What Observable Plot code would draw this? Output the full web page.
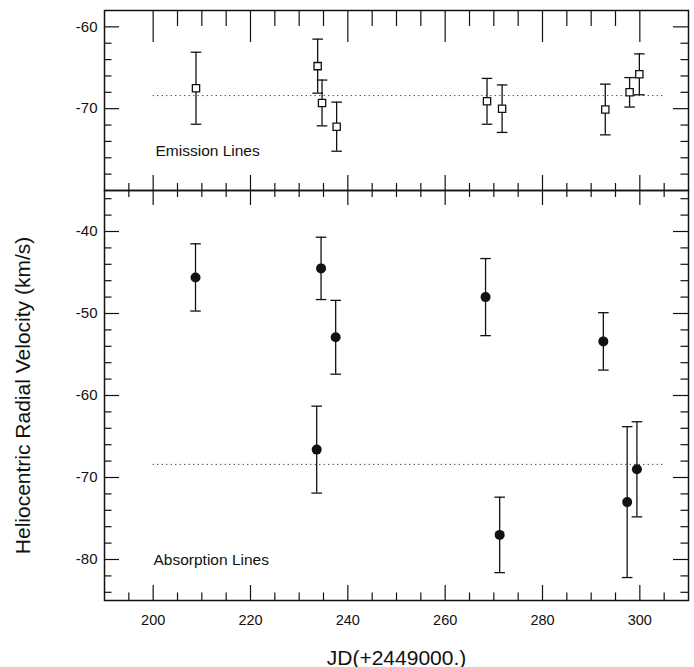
<!DOCTYPE html>
<html>
<head>
<meta charset="utf-8">
<script src="https://cdn.jsdelivr.net/npm/d3@7"></script>
<script src="https://cdn.jsdelivr.net/npm/@observablehq/plot@0.6"></script>
<style>
  html, body { margin: 0; padding: 0; background: #fff; }
  #chart { position: relative; width: 694px; height: 667px; background: #fff; }
  #chart svg { position: absolute; left: 0; overflow: visible; background: transparent; }
</style>
</head>
<body>
<div id="chart"></div>
<script>
// ---------- data ----------
const emissionJD  = [208.8, 233.8, 234.7, 237.7, 268.6, 271.7, 292.9, 297.9, 299.9];
const emissionV   = [-67.5, -64.8, -69.3, -72.2, -69.1, -70.0, -70.1, -68.0, -65.8];
const emissionErr = [4.4, 3.3, 2.8, 3.0, 2.8, 2.9, 3.1, 1.8, 2.5];

const absorptionJD  = [208.7, 234.5, 237.5, 268.3, 292.5, 233.6, 271.2, 297.4, 299.4];
const absorptionV   = [-45.6, -44.5, -52.9, -48.0, -53.4, -66.6, -77.0, -73.0, -69.0];
const absorptionErr = [4.1, 3.8, 4.5, 4.7, 3.5, 5.3, 4.6, 9.2, 5.8];

const meanLineJD = [200, 305];
const emissionMean = -68.4;
const absorptionMean = -68.4;

const xMajorTicks = [200, 220, 240, 260, 280, 300];
const xMinorTicks = [195, 205, 210, 215, 225, 230, 235, 245, 250, 255, 265, 270, 275, 285, 290, 295, 305];
const xMinorTicksTop = [205, 210, 215, 225, 230, 235, 245, 250, 255, 265, 270, 275, 285, 290, 295];

const topYMajor = [-60, -70];
const topYMinor = [-62, -64, -66, -68, -72, -74, -76, -78];
const botYMajor = [-40, -50, -60, -70, -80];
const botYMinor = [-36, -38, -42, -44, -46, -48, -52, -54, -56, -58, -62, -64, -66, -68, -72, -74, -76, -78, -82, -84];

const xLabel = "JD(+2449000.)";
const yLabel = "Heliocentric Radial Velocity (km/s)";
const emissionText = "Emission Lines";
const absorptionText = "Absorption Lines";

// ---------- build ----------
const emission = emissionJD.map((x, i) => ({x, v: emissionV[i], lo: emissionV[i] - emissionErr[i], hi: emissionV[i] + emissionErr[i]}));
const absorption = absorptionJD.map((x, i) => ({x, v: absorptionV[i], lo: absorptionV[i] - absorptionErr[i], hi: absorptionV[i] + absorptionErr[i]}));

const FONT = "'Liberation Sans', Arial, Helvetica, sans-serif";
const INK = "#111";
const W = 694, mL = 104, mR = 6;
const innerW = W - mL - mR;
const xDomain = [190, 310];
const capSymbol = {draw(ctx, size) { const r = Math.sqrt(size / Math.PI); ctx.moveTo(-r, 0); ctx.lineTo(r, 0); }};
const fmt = d => String(d);
const tickW = 1.2;

function sideTicks(yMajor, yMinor) {
  return [
    Plot.ruleY(yMajor, {stroke: INK, strokeWidth: tickW, insetRight: innerW - 15}),
    Plot.ruleY(yMinor, {stroke: INK, strokeWidth: tickW, insetRight: innerW - 7.5}),
    Plot.ruleY(yMajor, {stroke: INK, strokeWidth: tickW, insetLeft: innerW - 15}),
    Plot.ruleY(yMinor, {stroke: INK, strokeWidth: tickW, insetLeft: innerW - 7.5})
  ];
}

function errorMarks(data, markerSymbol, r, fill, sw) {
  return [
    Plot.ruleX(data, {x: "x", y1: "lo", y2: "hi", stroke: INK, strokeWidth: 1.3}),
    Plot.dot(data, {x: "x", y: "lo", symbol: capSymbol, r: 5.3, stroke: INK, strokeWidth: 1.3, fill: "none"}),
    Plot.dot(data, {x: "x", y: "hi", symbol: capSymbol, r: 5.3, stroke: INK, strokeWidth: 1.3, fill: "none"}),
    Plot.dot(data, {x: "x", y: "v", symbol: markerSymbol, r, fill, stroke: INK, strokeWidth: sw})
  ];
}

// top panel
const H1 = 190, top1 = 10, innerH1 = H1 - top1;
const topPlot = Plot.plot({
  width: W, height: H1,
  marginLeft: mL, marginRight: mR, marginTop: top1, marginBottom: 0,
  style: {fontFamily: FONT, background: "transparent", overflow: "visible"},
  x: {domain: xDomain, axis: null},
  y: {domain: [-80, -58], axis: null},
  marks: [
    ...sideTicks(topYMajor, topYMinor),
    Plot.ruleX(xMajorTicks, {stroke: INK, strokeWidth: tickW, insetBottom: innerH1 - 32}),
    Plot.ruleX(xMinorTicksTop, {stroke: INK, strokeWidth: tickW, insetBottom: innerH1 - 16}),
    Plot.ruleX(xMajorTicks, {stroke: INK, strokeWidth: tickW, insetTop: innerH1 - 15}),
    Plot.ruleX(xMinorTicks, {stroke: INK, strokeWidth: tickW, insetTop: innerH1 - 7}),
    Plot.ruleY([emissionMean], {x1: meanLineJD[0], x2: meanLineJD[1], stroke: "#333", strokeWidth: 1, strokeDasharray: "1.2,3.3"}),
    ...errorMarks(emission, "square", 4.1, "white", 1.3),
    Plot.text([emissionText], {text: d => d, frameAnchor: "bottom-left", textAnchor: "start", lineAnchor: "bottom", dx: 51, dy: -35, fontSize: 15.5, fill: INK}),
    Plot.axisY(topYMajor, {tickSize: 0, tickPadding: 7, fontSize: 15, tickFormat: fmt, label: null, fill: INK}),
    Plot.frame({stroke: INK, strokeWidth: 1.5})
  ]
});

// bottom panel
const H2 = 477, bot2 = 67, innerH2 = H2 - bot2;
const botPlot = Plot.plot({
  width: W, height: H2,
  marginLeft: mL, marginRight: mR, marginTop: 0, marginBottom: bot2,
  style: {fontFamily: FONT, background: "transparent", overflow: "visible"},
  x: {domain: xDomain},
  y: {domain: [-85, -35]},
  marks: [
    ...sideTicks(botYMajor, botYMinor),
    Plot.ruleX(xMajorTicks, {stroke: INK, strokeWidth: tickW, insetBottom: innerH2 - 15}),
    Plot.ruleX(xMinorTicks, {stroke: INK, strokeWidth: tickW, insetBottom: innerH2 - 7}),
    Plot.ruleX(xMajorTicks, {stroke: INK, strokeWidth: tickW, insetTop: innerH2 - 15}),
    Plot.ruleX(xMinorTicks, {stroke: INK, strokeWidth: tickW, insetTop: innerH2 - 7.5}),
    Plot.ruleY([absorptionMean], {x1: meanLineJD[0], x2: meanLineJD[1], stroke: "#333", strokeWidth: 1, strokeDasharray: "1.2,3.3"}),
    ...errorMarks(absorption, "circle", 5, INK, 0),
    Plot.text([absorptionText], {text: d => d, frameAnchor: "bottom-left", textAnchor: "start", lineAnchor: "bottom", dx: 49, dy: -36, fontSize: 15.5, fill: INK}),
    Plot.axisY(botYMajor, {tickSize: 0, tickPadding: 7, fontSize: 15, tickFormat: fmt, label: null, fill: INK}),
    Plot.axisY([], {tickSize: 0, label: yLabel, labelAnchor: "center", labelOffset: 89, labelArrow: "none", fontSize: 21, fill: INK}),
    Plot.axisX(xMajorTicks, {tickSize: 0, tickPadding: 14, fontSize: 14.5, tickFormat: fmt, label: null, fill: INK}),
    Plot.axisX([], {tickSize: 0, label: xLabel, labelAnchor: "center", labelOffset: 64, labelArrow: "none", fontSize: 21, fill: INK}),
    Plot.frame({stroke: INK, strokeWidth: 1.5})
  ]
});

const chart = document.getElementById("chart");
topPlot.style.top = "0px";
botPlot.style.top = H1 + "px";
chart.appendChild(topPlot);
chart.appendChild(botPlot);
</script>
</body>
</html>
